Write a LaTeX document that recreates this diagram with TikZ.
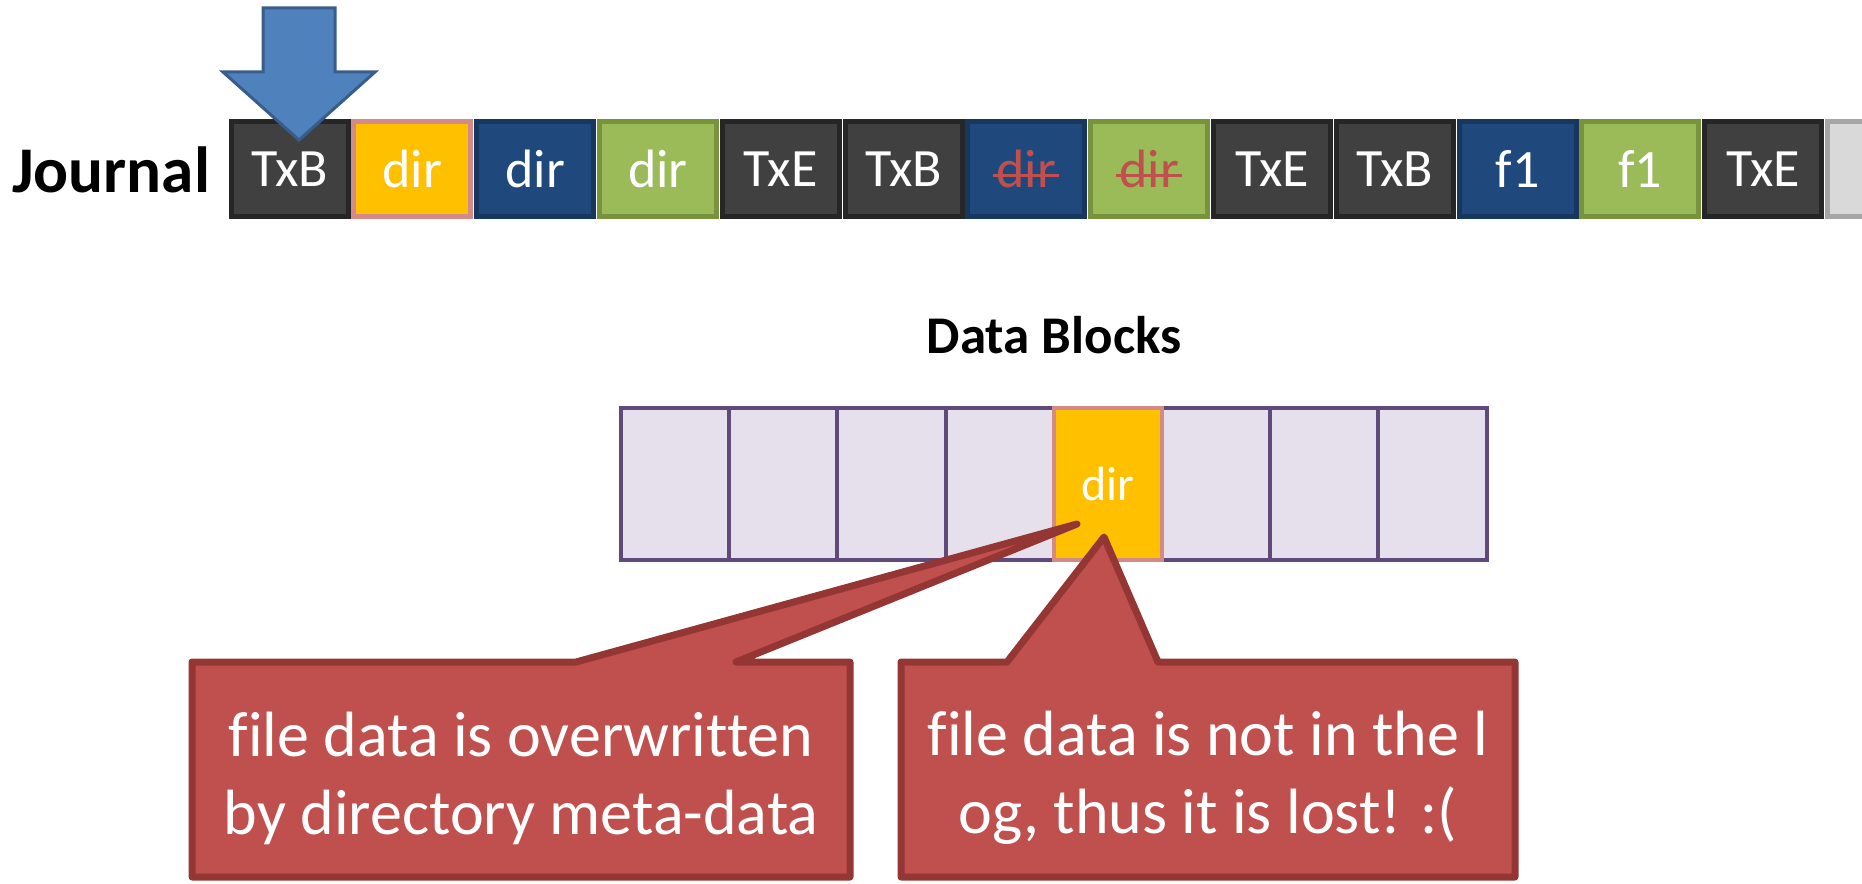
\documentclass[tikz,border=0pt]{standalone}
\usepackage{fontspec}
\setmainfont{Carlito}[Ligatures=NoCommon]

\definecolor{darkfill}{HTML}{404040}
\definecolor{darkline}{HTML}{262626}
\definecolor{ylwfill}{HTML}{FFC000}
\definecolor{ylwline}{HTML}{D48A86}
\definecolor{blufill}{HTML}{1F497D}
\definecolor{bluline}{HTML}{17375E}
\definecolor{grnfill}{HTML}{9BBB59}
\definecolor{grnline}{HTML}{77933C}
\definecolor{gryfill}{HTML}{D9D9D9}
\definecolor{gryline}{HTML}{A6A6A6}
\definecolor{lavfill}{HTML}{E6E0EC}
\definecolor{lavline}{HTML}{604A7B}
\definecolor{calfill}{HTML}{C0504D}
\definecolor{calline}{HTML}{943634}
\definecolor{arrfill}{HTML}{4F81BD}
\definecolor{arrline}{HTML}{385D8A}

\newsavebox{\strikebox}
\newcommand{\struck}[1]{\textcolor{calfill}{\sbox{\strikebox}{#1}%
  \rlap{\hspace{-0.06em}\raisebox{0.2em}{\rule{\dimexpr\wd\strikebox+0.12em\relax}{1.4pt}}}%
  \usebox{\strikebox}}}

\tikzset{
  jbox/.style={minimum width=58.5pt, minimum height=47pt, inner sep=0pt,
    line width=2.5pt, text=white, font=\fontsize{27}{32}\selectfont},
  txb/.style={fill=darkfill, draw=darkline},
  ylw/.style={fill=ylwfill, draw=ylwline},
  blu/.style={fill=blufill, draw=bluline},
  grn/.style={fill=grnfill, draw=grnline},
  gry/.style={fill=gryfill, draw=gryline},
  dblock/.style={minimum width=54.1pt, minimum height=76pt, inner sep=0pt,
    line width=2pt, fill=lavfill, draw=lavline},
  callout/.style={fill=calfill, draw=calline, line width=3.5pt, line join=round},
  caltext/.style={text=white, align=center, font=\fontsize{32}{39}\selectfont},
}

\begin{document}
\begin{tikzpicture}[x=0.5pt, y=-0.5pt]
  \useasboundingbox (0,0) rectangle (1862,883);

  % journal
  \node[font=\bfseries\fontsize{32.6}{38}\selectfont] (journal) at (111,170) {Journal};
  \foreach \kind/\txt [count=\i from 0] in {txb/TxB, ylw/dir, blu/dir, grn/dir,
      txb/TxE, txb/TxB, blu/\struck{dir}, grn/\struck{dir}, txb/TxE, txb/TxB,
      blu/f1, grn/f1, txb/TxE, gry/{}}
    \node[jbox, \kind] (j\i) at (289.5+122.8*\i, 169) {\txt};

  % block arrow on the first TxB
  \draw[fill=arrfill, draw=arrline, line width=1.5pt]
    (263,8) -- (335,8) -- (335,72) -- (375,72) -- (299,140)
    -- (223,72) -- (263,72) -- cycle;

  % data blocks
  \node[font=\bfseries\fontsize{26.5}{32}\selectfont] (dlabel) at (1054,335) {Data Blocks};
  \foreach \i in {0,...,7}
    \node[dblock] (d\i) at (675.1+108.2*\i, 484) {};
  \node[dblock, ylw, text=white, font=\fontsize{24}{29}\selectfont] (d4) at (675.1+108.2*4, 484) {dir};

  % callouts
  \draw[callout] (192,662) -- (576,662) -- (1077,524) -- (736,662) -- (850,662)
    -- (850,877) -- (192,877) -- cycle;
  \draw[callout] (901,662) -- (1007,662) -- (1104,537) -- (1158,662) -- (1515,662)
    -- (1515,877) -- (901,877) -- cycle;
  \node[caltext] (overwrite) at (521,778) {file data is overwritten\\by directory meta-data};
  \node[caltext] (lost) at (1208,778) {file data is not in the l\\og, thus it is lost! :(};
\end{tikzpicture}
\end{document}
